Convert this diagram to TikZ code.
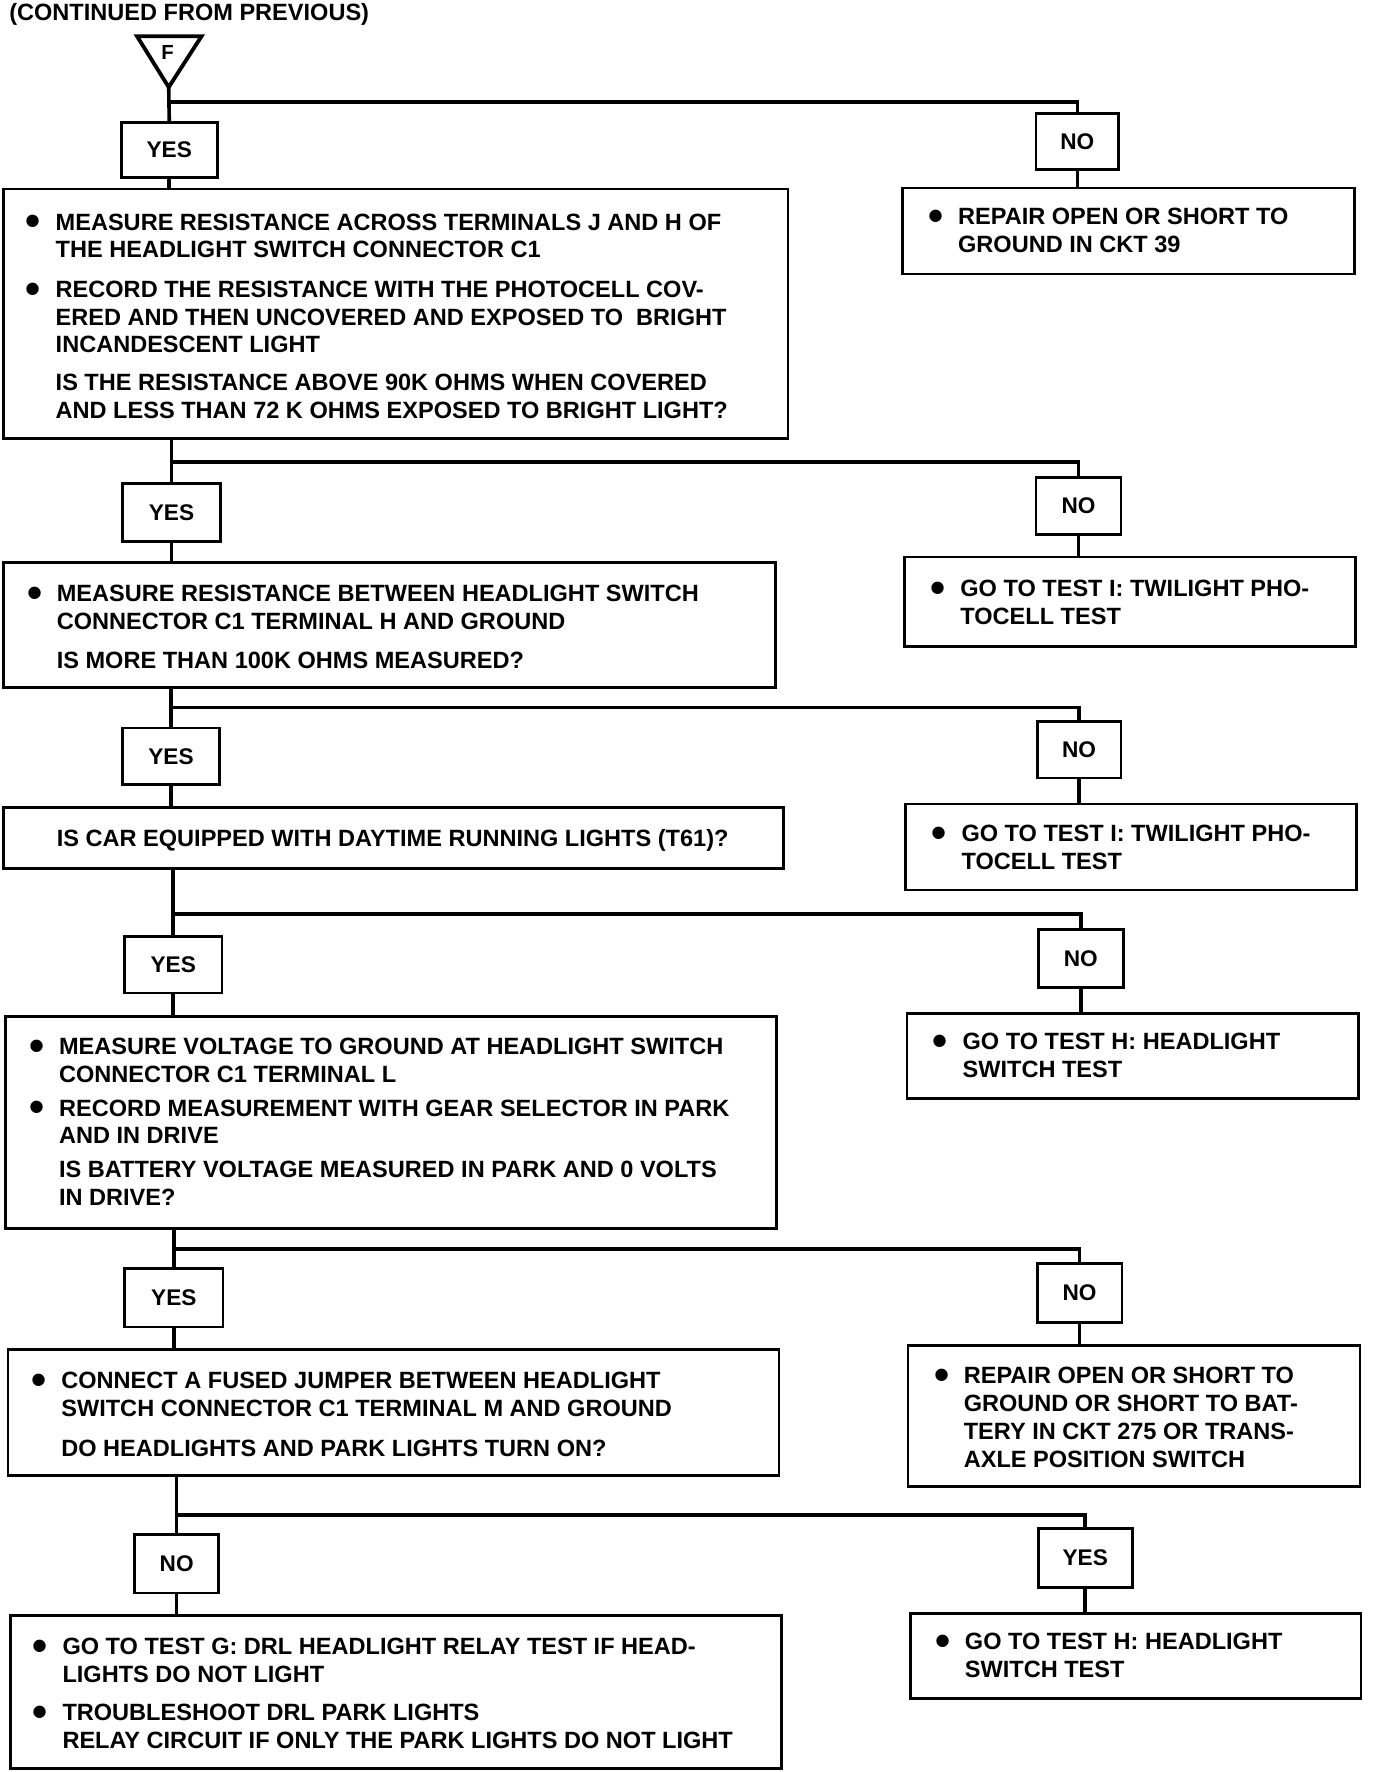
\documentclass[tikz,border=0pt]{standalone}
\usepackage{fontspec}
\setmainfont{Liberation Sans}
\newcommand\bul{\llap{\raisebox{-5pt}{\fontsize{38}{38}\selectfont •}\hspace{13pt}}}
\newcommand\mkbox[6]{\node[#1,minimum width={#5-#3},minimum height={#6-#4}] (#2) at ({(#3+#5)/2},{(#4+#6)/2}) {};}
\newcommand\mkans[7]{\node[#1,minimum width={#5-#3},minimum height={#6-#4}] (#2) at ({(#3+#5)/2},{(#4+#6)/2}) {#7};}
\tikzset{
  box/.style={draw, line width=2.4pt, rectangle, inner sep=0pt},
  ans/.style={draw, line width=2.4pt, rectangle, inner sep=0pt, font=\bfseries\fontsize{20}{20}\selectfont},
  txt/.style={anchor=north west, inner sep=0pt, align=left, font=\bfseries\fontsize{20.8}{24.5}\selectfont},
  conn/.style={line width=3.2pt},
}
\begin{document}
\begin{tikzpicture}[x=1pt,y=-1pt]
\fill[white] (0,0) rectangle (1215,1565);
\useasboundingbox (0,0) rectangle (1215,1565);
% header
\node[txt, font=\bfseries\fontsize{20.8}{24}\selectfont] (hdr) at (8,3) {(CONTINUED FROM PREVIOUS)};
% triangle
\draw[line width=3.4pt, line join=miter] (121,32) -- (178,32) -- (149,77) -- cycle;
\coordinate (apex) at (149,77);
\node[inner sep=0pt, font=\bfseries\fontsize{18}{18}\selectfont] (f) at (148,46) {F};
% junction rows
\coordinate (j1) at (0,90);
\coordinate (j2) at (0,408);
\coordinate (j3) at (0,625);
\coordinate (j4) at (0,807);
\coordinate (j5) at (0,1103);
\coordinate (j6) at (0,1338);
% main boxes
\mkbox{box}{m1}{3}{167}{696}{387}
\mkbox{box}{m2}{3}{497}{685}{607}
\mkbox{box}{m3}{3}{713}{692}{767}
\mkbox{box}{m4}{5}{898}{686}{1085}
\mkbox{box}{m5}{7}{1192}{688}{1303}
\mkbox{box}{m6}{9}{1427}{690}{1562}
% right boxes
\mkbox{box}{r1}{797}{166}{1196}{242}
\mkbox{box}{r2}{799}{492}{1197}{571}
\mkbox{box}{r3}{800}{710}{1198}{786}
\mkbox{box}{r4}{801}{895}{1200}{970}
\mkbox{box}{r5}{802}{1188}{1201}{1313}
\mkbox{box}{r6}{804}{1425}{1202}{1500}
% answer boxes left
\mkans{ans}{a1}{107}{108}{192}{157}{YES}
\mkans{ans}{a2}{108}{427}{195}{478}{YES}
\mkans{ans}{a3}{108}{643}{194}{693}{YES}
\mkans{ans}{a4}{110}{827}{196}{877}{YES}
\mkans{ans}{a5}{110}{1120}{197}{1172}{YES}
\mkans{ans}{a6}{119}{1355}{193}{1407}{NO}
% answer boxes right
\mkans{ans}{b1}{915}{100}{988}{150}{NO}
\mkans{ans}{b2}{915}{422}{990}{472}{NO}
\mkans{ans}{b3}{916}{637}{990}{687}{NO}
\mkans{ans}{b4}{917}{821}{992}{872}{NO}
\mkans{ans}{b5}{916}{1116}{991}{1168}{NO}
\mkans{ans}{b6}{917}{1350}{1000}{1402}{YES}
% connectors
\draw[conn] (apex) -- (a1.north);
\draw[conn] (a1.north |- j1) -| (b1.north);
\draw[conn] (a2.north |- m1.south) -- (a2.north);
\draw[conn] (a2.north |- j2) -| (b2.north);
\draw[conn] (a3.north |- m2.south) -- (a3.north);
\draw[conn] (a3.north |- j3) -| (b3.north);
\draw[conn] (a4.north |- m3.south) -- (a4.north);
\draw[conn] (a4.north |- j4) -| (b4.north);
\draw[conn] (a5.north |- m4.south) -- (a5.north);
\draw[conn] (a5.north |- j5) -| (b5.north);
\draw[conn] (a6.north |- m5.south) -- (a6.north);
\draw[conn] (a6.north |- j6) -| (b6.north);
\foreach \k in {1,...,6}{
  \draw[conn] (a\k.south) -- (a\k.south |- m\k.north);
  \draw[conn] (b\k.south) -- (b\k.south |- r\k.north);
}
% texts
\node[txt] (t1) at (49,188.5) {\bul MEASURE RESISTANCE ACROSS TERMINALS J AND H OF\\
THE HEADLIGHT SWITCH CONNECTOR C1\\[10.5pt]
\bul RECORD THE RESISTANCE WITH THE PHOTOCELL COV-\\
ERED AND THEN UNCOVERED AND EXPOSED TO\ \ BRIGHT\\
INCANDESCENT LIGHT\\[8.5pt]
IS THE RESISTANCE ABOVE 90K OHMS WHEN COVERED\\
AND LESS THAN 72 K OHMS EXPOSED TO BRIGHT LIGHT?};
\node[txt] (s1) at (846,183.5) {\bul REPAIR OPEN OR SHORT TO\\GROUND IN CKT 39};
\node[txt] (t2) at (50,516.5) {\bul MEASURE RESISTANCE BETWEEN HEADLIGHT SWITCH\\
CONNECTOR C1 TERMINAL H AND GROUND\\[10.5pt]
IS MORE THAN 100K OHMS MEASURED?};
\node[txt] (s2) at (848,512.5) {\bul GO TO TEST I: TWILIGHT PHO-\\TOCELL TEST};
\node[txt] (t3) at (50,732.5) {IS CAR EQUIPPED WITH DAYTIME RUNNING LIGHTS (T61)?};
\node[txt] (s3) at (849,728.5) {\bul GO TO TEST I: TWILIGHT PHO-\\TOCELL TEST};
\node[txt] (t4) at (52,916.5) {\bul MEASURE VOLTAGE TO GROUND AT HEADLIGHT SWITCH\\
CONNECTOR C1 TERMINAL L\\[5.5pt]
\bul RECORD MEASUREMENT WITH GEAR SELECTOR IN PARK\\
AND IN DRIVE\\[5.5pt]
IS BATTERY VOLTAGE MEASURED IN PARK AND 0 VOLTS\\
IN DRIVE?};
\node[txt] (s4) at (850,912.5) {\bul GO TO TEST H: HEADLIGHT\\SWITCH TEST};
\node[txt] (t5) at (54,1211.5) {\bul CONNECT A FUSED JUMPER BETWEEN HEADLIGHT\\
SWITCH CONNECTOR C1 TERMINAL M AND GROUND\\[11.5pt]
DO HEADLIGHTS AND PARK LIGHTS TURN ON?};
\node[txt] (s5) at (851,1207.5) {\bul REPAIR OPEN OR SHORT TO\\GROUND OR SHORT TO BAT-\\TERY IN CKT 275 OR TRANS-\\AXLE POSITION SWITCH};
\node[txt] (t6) at (55,1446.5) {\bul GO TO TEST G: DRL HEADLIGHT RELAY TEST IF HEAD-\\
LIGHTS DO NOT LIGHT\\[9.5pt]
\bul TROUBLESHOOT DRL PARK LIGHTS\\
RELAY CIRCUIT IF ONLY THE PARK LIGHTS DO NOT LIGHT};
\node[txt] (s6) at (852,1442.5) {\bul GO TO TEST H: HEADLIGHT\\SWITCH TEST};
\end{tikzpicture}
\end{document}
